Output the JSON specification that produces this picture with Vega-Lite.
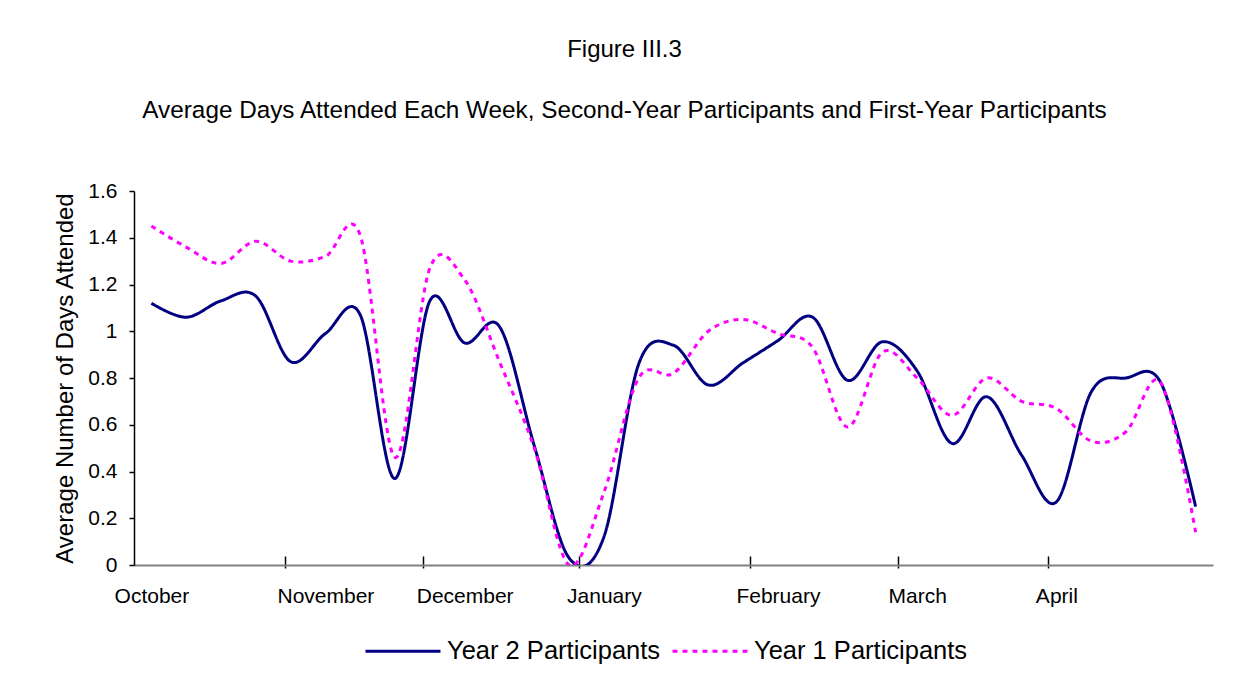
{
  "$schema": "https://vega.github.io/schema/vega-lite/v6.json",
  "width": 1079,
  "height": 374,
  "autosize": {"type": "none"},
  "padding": {"left": 134, "top": 191, "right": 30, "bottom": 131},
  "background": "white",
  "config": {
    "view": {"stroke": null},
    "font": "Liberation Sans",
    "axis": {"labelFont": "Liberation Sans", "titleFont": "Liberation Sans", "labelColor": "black", "titleColor": "black"},
    "legend": {"labelFont": "Liberation Sans"}
  },
  "title": {
    "text": "Figure III.3",
    "subtitle": "Average Days Attended Each Week, Second-Year Participants and First-Year Participants",
    "font": "Liberation Sans",
    "subtitleFont": "Liberation Sans",
    "fontSize": 24,
    "subtitleFontSize": 24.3,
    "fontWeight": "normal",
    "color": "black",
    "subtitleColor": "black",
    "anchor": "middle",
    "frame": "group",
    "dx": -49,
    "offset": 57,
    "subtitlePadding": 37
  },
  "data": {
    "values": [
      {"week": 1, "series": "Year 2 Participants", "days": 1.12},
      {"week": 2, "series": "Year 2 Participants", "days": 1.06},
      {"week": 3, "series": "Year 2 Participants", "days": 1.13},
      {"week": 4, "series": "Year 2 Participants", "days": 1.15},
      {"week": 5, "series": "Year 2 Participants", "days": 0.87},
      {"week": 6, "series": "Year 2 Participants", "days": 0.99},
      {"week": 7, "series": "Year 2 Participants", "days": 1.07},
      {"week": 8, "series": "Year 2 Participants", "days": 0.37},
      {"week": 9, "series": "Year 2 Participants", "days": 1.13},
      {"week": 10, "series": "Year 2 Participants", "days": 0.95},
      {"week": 11, "series": "Year 2 Participants", "days": 1.02},
      {"week": 12, "series": "Year 2 Participants", "days": 0.51},
      {"week": 13, "series": "Year 2 Participants", "days": 0.03},
      {"week": 14, "series": "Year 2 Participants", "days": 0.12},
      {"week": 15, "series": "Year 2 Participants", "days": 0.86},
      {"week": 16, "series": "Year 2 Participants", "days": 0.94},
      {"week": 17, "series": "Year 2 Participants", "days": 0.77},
      {"week": 18, "series": "Year 2 Participants", "days": 0.865},
      {"week": 19, "series": "Year 2 Participants", "days": 0.96},
      {"week": 20, "series": "Year 2 Participants", "days": 1.06},
      {"week": 21, "series": "Year 2 Participants", "days": 0.79},
      {"week": 22, "series": "Year 2 Participants", "days": 0.955},
      {"week": 23, "series": "Year 2 Participants", "days": 0.83},
      {"week": 24, "series": "Year 2 Participants", "days": 0.52},
      {"week": 25, "series": "Year 2 Participants", "days": 0.72},
      {"week": 26, "series": "Year 2 Participants", "days": 0.47},
      {"week": 27, "series": "Year 2 Participants", "days": 0.27},
      {"week": 28, "series": "Year 2 Participants", "days": 0.74},
      {"week": 29, "series": "Year 2 Participants", "days": 0.80},
      {"week": 30, "series": "Year 2 Participants", "days": 0.78},
      {"week": 31, "series": "Year 2 Participants", "days": 0.25},
      {"week": 1, "series": "Year 1 Participants", "days": 1.45},
      {"week": 2, "series": "Year 1 Participants", "days": 1.36},
      {"week": 3, "series": "Year 1 Participants", "days": 1.29},
      {"week": 4, "series": "Year 1 Participants", "days": 1.385},
      {"week": 5, "series": "Year 1 Participants", "days": 1.30},
      {"week": 6, "series": "Year 1 Participants", "days": 1.32},
      {"week": 7, "series": "Year 1 Participants", "days": 1.41},
      {"week": 8, "series": "Year 1 Participants", "days": 0.46},
      {"week": 9, "series": "Year 1 Participants", "days": 1.27},
      {"week": 10, "series": "Year 1 Participants", "days": 1.22},
      {"week": 11, "series": "Year 1 Participants", "days": 0.87},
      {"week": 12, "series": "Year 1 Participants", "days": 0.50},
      {"week": 13, "series": "Year 1 Participants", "days": 0.0},
      {"week": 14, "series": "Year 1 Participants", "days": 0.31},
      {"week": 15, "series": "Year 1 Participants", "days": 0.80},
      {"week": 16, "series": "Year 1 Participants", "days": 0.82},
      {"week": 17, "series": "Year 1 Participants", "days": 1.0},
      {"week": 18, "series": "Year 1 Participants", "days": 1.05},
      {"week": 19, "series": "Year 1 Participants", "days": 0.99},
      {"week": 20, "series": "Year 1 Participants", "days": 0.93},
      {"week": 21, "series": "Year 1 Participants", "days": 0.59},
      {"week": 22, "series": "Year 1 Participants", "days": 0.91},
      {"week": 23, "series": "Year 1 Participants", "days": 0.80},
      {"week": 24, "series": "Year 1 Participants", "days": 0.64},
      {"week": 25, "series": "Year 1 Participants", "days": 0.80},
      {"week": 26, "series": "Year 1 Participants", "days": 0.70},
      {"week": 27, "series": "Year 1 Participants", "days": 0.67},
      {"week": 28, "series": "Year 1 Participants", "days": 0.53},
      {"week": 29, "series": "Year 1 Participants", "days": 0.57},
      {"week": 30, "series": "Year 1 Participants", "days": 0.78},
      {"week": 31, "series": "Year 1 Participants", "days": 0.14}
    ]
  },
  "encoding": {
    "y": {
      "field": "days",
      "type": "quantitative",
      "scale": {"domain": [0, 1.6], "nice": false, "zero": false},
      "axis": {
        "values": [0, 0.2, 0.4, 0.6, 0.8, 1, 1.2, 1.4, 1.6],
        "format": ".1~f",
        "grid": false,
        "labelFontSize": 21,
        "labelPadding": 12,
        "tickColor": "black",
        "tickSize": 5,
        "tickWidth": 1.5,
        "domainColor": "black",
        "domainWidth": 1.5,
        "title": "Average Number of Days Attended",
        "titleFontSize": 24,
        "titleFontWeight": "normal",
        "titlePadding": 10
      }
    },
    "color": {
      "field": "series",
      "type": "nominal",
      "scale": {"domain": ["Year 2 Participants", "Year 1 Participants"], "range": ["#000080", "#FF00FF"]},
      "legend": {
        "title": null,
        "orient": "none",
        "legendX": 230,
        "legendY": 421,
        "direction": "horizontal",
        "padding": 0,
        "labelFontSize": 25.5,
        "labelColor": "black",
        "labelLimit": 0,
        "labelOffset": 5,
        "columnPadding": 5,
        "symbolType": "stroke",
        "symbolSize": 5625,
        "symbolStrokeWidth": 3
      }
    },
    "strokeDash": {
      "field": "series",
      "type": "nominal",
      "scale": {"domain": ["Year 2 Participants", "Year 1 Participants"], "range": [[1, 0], [5, 5]]},
      "legend": {
        "title": null,
        "orient": "none",
        "legendX": 230,
        "legendY": 421,
        "direction": "horizontal",
        "padding": 0,
        "labelFontSize": 25.5,
        "labelColor": "black",
        "labelLimit": 0,
        "labelOffset": 5,
        "columnPadding": 5,
        "symbolType": "stroke",
        "symbolSize": 5625,
        "symbolStrokeWidth": 3
      }
    }
  },
  "layer": [
    {
      "transform": [{"filter": "datum.series === 'Year 2 Participants'"}],
      "mark": {"type": "line", "interpolate": "cardinal", "strokeWidth": 3, "clip": true},
      "encoding": {
        "x": {
          "field": "week",
          "type": "quantitative",
          "scale": {"domain": [0.5, 31.5], "nice": false, "zero": false},
          "axis": {
            "orient": "bottom",
            "values": [4.83, 8.79, 13.28, 18.2, 22.44, 26.77],
            "labels": false,
            "domain": false,
            "ticks": true,
            "tickSize": 12,
            "tickWidth": 1.5,
            "tickColor": "black",
            "offset": -9,
            "grid": false,
            "title": null
          }
        }
      }
    },
    {
      "transform": [{"filter": "datum.series === 'Year 1 Participants'"}],
      "mark": {"type": "line", "interpolate": "cardinal", "strokeWidth": 3, "clip": true},
      "encoding": {
        "x": {
          "field": "week",
          "type": "quantitative",
          "scale": {"domain": [0.5, 31.5], "nice": false, "zero": false},
          "axis": {
            "orient": "bottom",
            "values": [1, 6, 10, 14, 19, 23, 27],
            "labelExpr": "datum.value == 1 ? 'October' : datum.value == 6 ? 'November' : datum.value == 10 ? 'December' : datum.value == 14 ? 'January' : datum.value == 19 ? 'February' : datum.value == 23 ? 'March' : 'April'",
            "labelFontSize": 21,
            "labelPadding": 20,
            "labelFlush": false,
            "labelOverlap": false,
            "ticks": false,
            "tickSize": 0,
            "domain": true,
            "domainColor": "#808080",
            "domainWidth": 2,
            "grid": false,
            "title": null
          }
        }
      }
    }
  ],
  "resolve": {"axis": {"x": "independent"}}
}
